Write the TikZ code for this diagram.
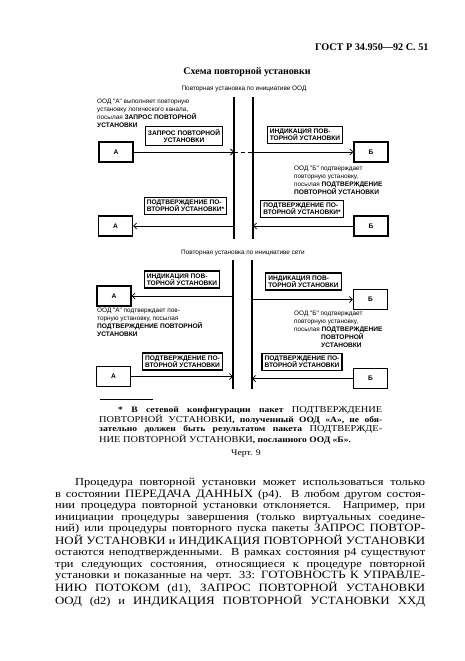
\documentclass[tikz,border=0pt]{standalone}
\usepackage{fontspec}
\setmainfont{Liberation Serif}
\newfontfamily\scanfont[FakeStretch=1.15]{Liberation Serif}
\newfontfamily\schemefont{Liberation Sans}
\usetikzlibrary{positioning,calc,arrows.meta}
\newcommand\capw[1]{{\fontsize{11.2}{11.5}\selectfont #1}}
\newcommand\fcap[1]{{\mdseries\fontsize{9}{9}\selectfont #1}}
\newcommand\ncap[1]{{\bfseries\fontsize{6.6}{7.9}\selectfont #1}}

\begin{document}
\begin{tikzpicture}[x=1pt, y=-1pt,
    >={Straight Barb[length=3pt,width=6pt]},
    lbl/.style={
      draw,
      line width=1.1pt,
      inner sep=2.5pt,
      align=left,
      font=\schemefont\bfseries\fontsize{6.6}{7.4}\selectfont,
    },
    dte/.style={
      draw,
      line width=1.1pt,
      minimum width=34pt,
      minimum height=20pt,
      font=\schemefont\bfseries\fontsize{6.6}{7}\selectfont,
    },
    note/.style={
      anchor=north west,
      inner sep=0pt,
      align=left,
      font=\schemefont\fontsize{6.4}{7.9}\selectfont,
    },
    sub/.style={font=\schemefont\fontsize{6.4}{7}\selectfont},
    flow/.style={->, line width=0.8pt},
    bus/.style={line width=1.1pt},
  ]
  \path[fill=white, use as bounding box] (0,0) rectangle (465,661);

  % page head
  \node[anchor=east, font=\bfseries\fontsize{10.2}{11}\selectfont] (gost) at (432,47) {ГОСТ Р 34.950—92 С. 51};
  \node[font=\bfseries\fontsize{10}{11}\selectfont] (title) at (247,72) {Схема повторной установки};

  % reset started by the DTE
  \node[sub] (sub1) at (244,89) {Повторная установка по инициативе ООД};
  \coordinate (tl1) at (234,97);
  \coordinate (tl2) at (234,239);
  \coordinate (tr1) at (253,97);
  \coordinate (tr2) at (253,239);
  \draw[bus] (tl1) -- (tl2);
  \draw[bus] (tr1) -- (tr2);

  \node[note] (n1) at (97,99) {ООД "А" выполняет повторную\\установку логического канала,\\посылая \ncap{ЗАПРОС ПОВТОРНОЙ}\\\ncap{УСТАНОВКИ}};
  \node[lbl, align=center] (req) at (184,136) {ЗАПРОС ПОВТОРНОЙ\\УСТАНОВКИ};
  \node[dte] (a1) at (116,152) {А};
  \node[lbl] (ind1) at (305,135) {ИНДИКАЦИЯ ПОВ-\\ТОРНОЙ УСТАНОВКИ};
  \node[dte] (b1) at (371,152) {Б};
  \node[note] (n2) at (294,166) {ООД "Б" подтверждает\\повторную установку,\\посылая \ncap{ПОДТВЕРЖДЕНИЕ}\\\ncap{ПОВТОРНОЙ УСТАНОВКИ}};
  \node[lbl] (conf1l) at (185.5,206) {ПОДТВЕРЖДЕНИЕ ПО-\\ВТОРНОЙ УСТАНОВКИ*};
  \node[dte] (a2) at (115.5,226) {А};
  \node[lbl] (conf1r) at (302,209) {ПОДТВЕРЖДЕНИЕ ПО-\\ВТОРНОЙ УСТАНОВКИ*};
  \node[dte] (b2) at (371,226) {Б};

  \draw[flow] (a1) -- (a1 -| tl1);
  \draw[dash pattern=on 4pt off 3pt, line width=0.8pt] (a1 -| tl1) -- (a1 -| tr1);
  \draw[flow] (a1 -| tr1) -- (b1);
  \draw[flow] (b2) -- (b2 -| tr1);
  \draw[flow] (a2 -| tl1) -- (a2);

  % reset started by the network
  \node[sub] (sub2) at (243,253) {Повторная установка по инициативе сети};
  \coordinate (bl1) at (233,260);
  \coordinate (bl2) at (233,389);
  \coordinate (br1) at (252,260);
  \coordinate (br2) at (252,389);
  \draw[bus] (bl1) -- (bl2);
  \draw[bus] (br1) -- (br2);

  \node[lbl] (ind2l) at (182,279.5) {ИНДИКАЦИЯ ПОВ-\\ТОРНОЙ УСТАНОВКИ};
  \node[dte] (a3) at (114,296) {А};
  \node[note] (n3) at (97,308) {ООД "А" подтверждает пов-\\торную установку, посылая\\\ncap{ПОДТВЕРЖДЕНИЕ ПОВТОРНОЙ}\\\ncap{УСТАНОВКИ}};
  \node[lbl] (conf2l) at (182.5,361.5) {ПОДТВЕРЖДЕНИЕ ПО-\\ВТОРНОЙ УСТАНОВКИ};
  \node[dte] (a4) at (113.5,376.5) {А};
  \node[lbl] (ind2r) at (303.5,281.5) {ИНДИКАЦИЯ ПОВ-\\ТОРНОЙ УСТАНОВКИ};
  \node[dte] (b3) at (370.5,299.5) {Б};
  \node[note] (n4) at (294,311) {ООД "Б" подтверждает\\повторную установку,\\посылая \ncap{ПОДТВЕРЖДЕНИЕ}\\\hspace*{27pt}\ncap{ПОВТОРНОЙ}\\\hspace*{27pt}\ncap{УСТАНОВКИ}};
  \node[lbl] (conf2r) at (302,362) {ПОДТВЕРЖДЕНИЕ ПО-\\ВТОРНОЙ УСТАНОВКИ};
  \node[dte] (b4) at (370.5,378.5) {Б};

  \draw[flow] (a3 -| bl1) -- (a3);
  \draw[flow] (b3 -| br1) -- (b3);
  \draw[flow] (a4) -- (a4 -| bl1);
  \draw[flow] (b4) -- (b4 -| br1);

  % footnote
  \coordinate (fn) at (100,399);
  \draw[line width=0.5pt] (fn) -- ++(53,0);
  \node[anchor=north west, inner sep=0pt, align=left, font=\scanfont\bfseries\fontsize{8.3}{8.8}\selectfont] (foot) at (99,406) {%
    \hspace*{19pt}\makebox[264pt][s]{* В сетевой конфигурации пакет \fcap{ПОДТВЕРЖДЕНИЕ}}\\
    \makebox[283pt][s]{\fcap{ПОВТОРНОЙ УСТАНОВКИ}, полученный ООД «А», не обя-}\\
    \makebox[283pt][s]{зательно должен быть результатом пакета \fcap{ПОДТВЕРЖДЕ-}}\\
    \fcap{НИЕ ПОВТОРНОЙ УСТАНОВКИ}, посланного ООД «Б».};
  \node[font=\scanfont\fontsize{8.5}{9}\selectfont] (fig) at (246,454) {Черт. 9};

  % running text
  \node[anchor=north west, inner sep=0pt, align=left, font=\scanfont\fontsize{10.8}{11.5}\selectfont] (body) at (55,478) {%
    \hspace*{20pt}\makebox[350pt][s]{Процедура повторной установки может использоваться только}\\
    \makebox[370pt][s]{в состоянии \capw{ПЕРЕДАЧА ДАННЫХ} (p4). В любом другом состоя-}\\
    \makebox[370pt][s]{нии процедура повторной установки отклоняется. Например, при}\\
    \makebox[370pt][s]{инициации процедуры завершения (только виртуальных соедине-}\\
    \makebox[370pt][s]{ний) или процедуры повторного пуска пакеты \capw{ЗАПРОС ПОВТОР-}}\\
    \makebox[370pt][s]{\capw{НОЙ УСТАНОВКИ} и \capw{ИНДИКАЦИЯ ПОВТОРНОЙ УСТАНОВКИ}}\\
    \makebox[370pt][s]{остаются неподтвержденными. В рамках состояния p4 существуют}\\
    \makebox[370pt][s]{три следующих состояния, относящиеся к процедуре повторной}\\
    \makebox[370pt][s]{установки и показанные на черт. 33: \capw{ГОТОВНОСТЬ К УПРАВЛЕ-}}\\
    \makebox[370pt][s]{\capw{НИЮ ПОТОКОМ} (d1), \capw{ЗАПРОС ПОВТОРНОЙ УСТАНОВКИ}}\\
    \makebox[370pt][s]{\capw{ООД} (d2) и \capw{ИНДИКАЦИЯ ПОВТОРНОЙ УСТАНОВКИ ХХД}}};
\end{tikzpicture}
\end{document}
